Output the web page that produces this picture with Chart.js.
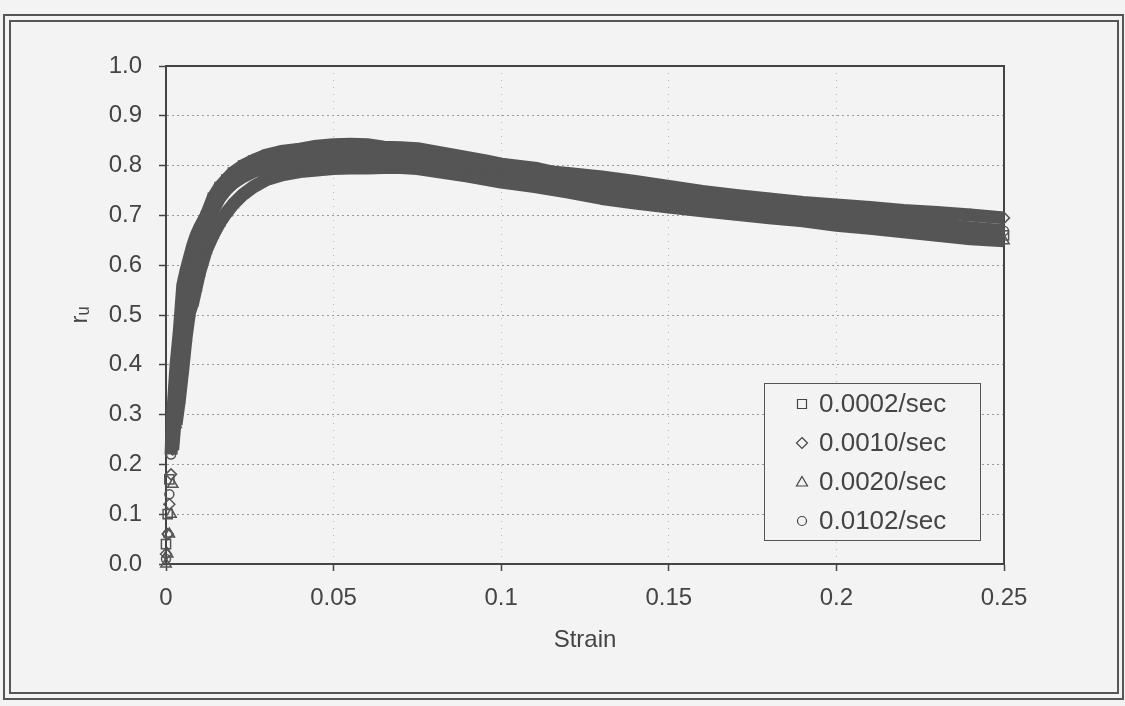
<!DOCTYPE html>
<html>
<head>
<meta charset="utf-8">
<title>r_u vs Strain</title>
<script src="https://cdn.jsdelivr.net/npm/chart.js@4.4.1/dist/chart.umd.min.js"></script>
<style>
  html, body { margin: 0; padding: 0; background: #f3f3f3; }
  #wrap { width: 1125px; height: 706px; }
</style>
</head>
<body>
<div id="wrap"><canvas id="chart" width="1125" height="706"></canvas></div>
<script>
// strain values shared by the four test series
const strain = [0, 0.0005, 0.001, 0.0015, 0.002, 0.003, 0.004, 0.005, 0.006, 0.007,
  0.008, 0.009, 0.010, 0.012, 0.014, 0.016, 0.018, 0.020, 0.023, 0.026,
  0.030, 0.035, 0.040, 0.045, 0.050, 0.055, 0.060, 0.065, 0.070, 0.075,
  0.080, 0.085, 0.090, 0.095, 0.100, 0.110, 0.120, 0.130, 0.140, 0.150,
  0.160, 0.170, 0.180, 0.190, 0.200, 0.210, 0.220, 0.230, 0.240, 0.250];

// pore pressure ratio r_u, one array per strain rate
const ru0002 = [0.04, 0.10, 0.17, 0.24, 0.29, 0.36, 0.43, 0.49, 0.54, 0.57,
  0.60, 0.635, 0.66, 0.70, 0.735, 0.757, 0.772, 0.786, 0.800, 0.810,
  0.821, 0.829, 0.833, 0.839, 0.842, 0.843, 0.842, 0.837, 0.836, 0.834,
  0.828, 0.822, 0.816, 0.810, 0.803, 0.795, 0.780, 0.764, 0.752, 0.742,
  0.735, 0.725, 0.715, 0.707, 0.700, 0.694, 0.687, 0.679, 0.668, 0.660];

const ru0010 = [0.02, 0.06, 0.12, 0.18, 0.23, 0.31, 0.38, 0.44, 0.49, 0.535,
  0.57, 0.60, 0.63, 0.675, 0.71, 0.735, 0.752, 0.765, 0.778, 0.788,
  0.797, 0.803, 0.808, 0.812, 0.815, 0.817, 0.818, 0.818, 0.817, 0.815,
  0.812, 0.808, 0.805, 0.800, 0.797, 0.790, 0.784, 0.777, 0.768, 0.758,
  0.748, 0.740, 0.733, 0.726, 0.721, 0.716, 0.710, 0.706, 0.701, 0.695];

const ru0020 = [0.00, 0.02, 0.06, 0.10, 0.16, 0.28, 0.33, 0.39, 0.455, 0.505,
  0.525, 0.555, 0.585, 0.63, 0.66, 0.685, 0.705, 0.722, 0.742, 0.757,
  0.772, 0.782, 0.788, 0.791, 0.794, 0.795, 0.795, 0.796, 0.796, 0.794,
  0.789, 0.784, 0.779, 0.773, 0.767, 0.758, 0.747, 0.734, 0.725, 0.717,
  0.709, 0.702, 0.695, 0.689, 0.680, 0.674, 0.667, 0.660, 0.653, 0.649];

const ru0102 = [0.01, 0.06, 0.14, 0.22, 0.30, 0.40, 0.47, 0.56, 0.59, 0.615,
  0.64, 0.66, 0.675, 0.70, 0.72, 0.74, 0.755, 0.765, 0.78, 0.79,
  0.80, 0.807, 0.812, 0.816, 0.821, 0.823, 0.822, 0.819, 0.815, 0.810,
  0.804, 0.798, 0.793, 0.787, 0.782, 0.772, 0.762, 0.754, 0.747, 0.740,
  0.732, 0.724, 0.714, 0.706, 0.699, 0.694, 0.688, 0.682, 0.675, 0.669];

const seriesLabels = ['0.0002/sec', '0.0010/sec', '0.0020/sec', '0.0102/sec'];
const seriesMarkers = ['rect', 'rectRot', 'triangle', 'circle'];
const xTickLabels = ['0', '0.05', '0.1', '0.15', '0.2', '0.25'];
const yTickLabels = ['0.0', '0.1', '0.2', '0.3', '0.4', '0.5', '0.6', '0.7', '0.8', '0.9', '1.0'];

const INK = '#555555';
const TEXT = '#444444';
const BG = '#f3f3f3';
const FONT = "'Liberation Sans', Arial, sans-serif";

function toPoints(values) {
  return strain.map((s, i) => ({ x: s, y: values[i] }));
}

const markerRadius = { rect: 6.5, rectRot: 5.5, triangle: 6, circle: 4.5 };

const datasets = [ru0002, ru0010, ru0020, ru0102].map((vals, i) => ({
  label: seriesLabels[i],
  data: toPoints(vals),
  showLine: true,
  borderColor: INK,
  borderWidth: 13,
  borderJoinStyle: 'round',
  tension: 0,
  pointStyle: seriesMarkers[i],
  pointRadius: markerRadius[seriesMarkers[i]],
  pointBorderColor: INK,
  pointBackgroundColor: 'rgba(0,0,0,0)',
  pointBorderWidth: 1.5,
  clip: 12,
  // the first few readings show as separate markers, no solid band
  segment: {
    borderColor: ctx => (ctx.p0.parsed.y < 0.3 && ctx.p1.parsed.y < 0.3) ? 'rgba(0,0,0,0)' : INK
  }
}));

// page background + double frame
const framePlugin = {
  id: 'frame',
  beforeDraw(chart) {
    const ctx = chart.ctx;
    ctx.save();
    ctx.fillStyle = BG;
    ctx.fillRect(0, 0, chart.width, chart.height);
    ctx.strokeStyle = INK;
    ctx.lineWidth = 2;
    ctx.strokeRect(4, 15, 1119, 684);
    ctx.strokeRect(10, 21, 1108, 672);
    ctx.restore();
  },
  beforeDatasetsDraw(chart) {
    const { ctx, chartArea: a } = chart;
    ctx.save();
    ctx.strokeStyle = '#444';
    ctx.lineWidth = 2;
    ctx.strokeRect(a.left, a.top, a.right - a.left, a.bottom - a.top);
    ctx.restore();
  }
};

function drawMarker(ctx, style, x, y) {
  ctx.beginPath();
  if (style === 'rect') {
    ctx.rect(x - 4.5, y - 4.5, 9, 9);
  } else if (style === 'rectRot') {
    ctx.moveTo(x, y - 5.5);
    ctx.lineTo(x + 5.5, y);
    ctx.lineTo(x, y + 5.5);
    ctx.lineTo(x - 5.5, y);
    ctx.closePath();
  } else if (style === 'triangle') {
    ctx.moveTo(x, y - 5.5);
    ctx.lineTo(x + 5.5, y + 4);
    ctx.lineTo(x - 5.5, y + 4);
    ctx.closePath();
  } else {
    ctx.arc(x, y, 4.5, 0, Math.PI * 2);
  }
  ctx.stroke();
}

// boxed legend in the lower right of the plot area
const boxLegend = {
  id: 'boxLegend',
  afterDraw(chart) {
    const ctx = chart.ctx;
    const box = { x: 764, y: 383, w: 216, h: 157 };
    ctx.save();
    ctx.fillStyle = BG;
    ctx.fillRect(box.x, box.y, box.w, box.h);
    ctx.strokeStyle = INK;
    ctx.lineWidth = 1;
    ctx.strokeRect(box.x + 0.5, box.y + 0.5, box.w, box.h);
    ctx.font = '26px ' + FONT;
    ctx.textBaseline = 'middle';
    ctx.textAlign = 'left';
    chart.data.datasets.forEach((ds, i) => {
      const y = 404 + i * 39;
      ctx.strokeStyle = TEXT;
      ctx.lineWidth = 1.2;
      drawMarker(ctx, seriesMarkers[i], 802, y);
      ctx.fillStyle = TEXT;
      ctx.fillText(ds.label, 819, y + 1);
    });
    ctx.restore();
  }
};

new Chart(document.getElementById('chart'), {
  type: 'scatter',
  data: { datasets: datasets },
  plugins: [framePlugin, boxLegend],
  options: {
    responsive: false,
    animation: false,
    devicePixelRatio: 1,
    layout: { padding: { left: 0, top: 66, right: 121, bottom: 0 } },
    plugins: {
      legend: { display: false },
      tooltip: { enabled: false }
    },
    scales: {
      x: {
        type: 'linear',
        min: 0,
        max: 0.25,
        afterFit: scale => { scale.height = 142; },
        ticks: {
          stepSize: 0.05,
          autoSkip: false,
          maxRotation: 0,
          padding: 13,
          color: TEXT,
          font: { family: FONT, size: 24 },
          callback: (v, i) => xTickLabels[i]
        },
        grid: { color: '#b5b5b5', lineWidth: 1, drawTicks: true, tickLength: 7, tickColor: '#444', tickWidth: 1.5 },
        border: { color: '#444', width: 2, dash: [1, 6] },
        title: {
          display: true,
          text: 'Strain',
          color: TEXT,
          font: { family: FONT, size: 24 },
          padding: { top: 0, bottom: 51 }
        }
      },
      y: {
        type: 'linear',
        min: 0,
        max: 1,
        afterFit: scale => { scale.width = 166; },
        ticks: {
          stepSize: 0.1,
          autoSkip: false,
          padding: 17,
          color: TEXT,
          font: { family: FONT, size: 24 },
          callback: (v, i) => yTickLabels[i]
        },
        grid: { color: '#999999', lineWidth: 1, drawTicks: true, tickLength: 7, tickColor: '#444', tickWidth: 1.5 },
        border: { color: '#444', width: 2, dash: [2, 3] },
        title: {
          display: true,
          text: 'rᵤ',
          color: TEXT,
          font: { family: FONT, size: 24 },
          padding: { top: 66, bottom: 0 }
        }
      }
    }
  }
});
</script>
</body>
</html>
